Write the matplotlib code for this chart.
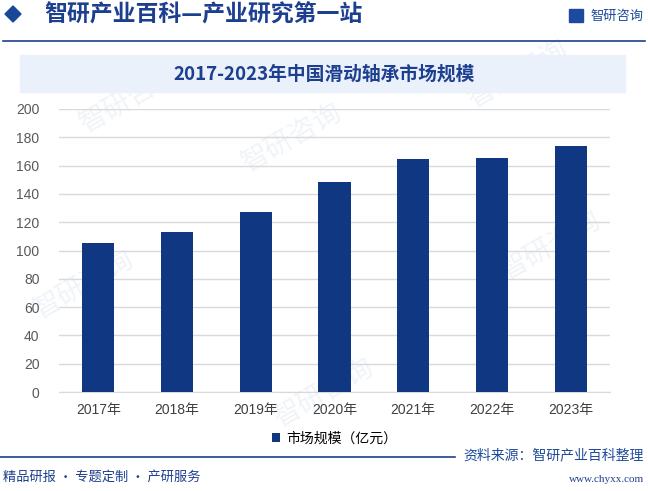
import matplotlib.pyplot as plt
from matplotlib.patches import Rectangle, Polygon
import matplotlib.lines as mlines

plt.rcParams['font.family'] = ['Liberation Sans', 'Noto Sans CJK SC', 'DejaVu Sans']

# 数据
years = ['2017年', '2018年', '2019年', '2020年', '2021年', '2022年', '2023年']
market_size = [105.0, 113.0, 127.1, 148.4, 164.6, 165.3, 173.8]
series_name = '市场规模（亿元）'
title = '2017-2023年中国滑动轴承市场规模'

bar_color = '#0f3782'
dark_blue = '#1d3f8f'

fig = plt.figure(figsize=(6.48, 4.91), dpi=100)

# 水印（淡色，位于图形之后）
for (wx, wy) in [(0.13, 0.42), (0.45, 0.72), (0.5, 0.2), (0.85, 0.5), (0.2, 0.8), (0.8, 0.85)]:
    fig.text(wx, wy, '智研咨询', fontsize=20, color='#f0f4f9', rotation=30,
             ha='center', va='center', family=['Noto Sans CJK SC'], zorder=0)

# 顶部标题栏
fig.patches.append(Polygon([[5 / 648, 1 - 14 / 491], [13 / 648, 1 - 6 / 491],
                            [21 / 648, 1 - 14 / 491], [13 / 648, 1 - 22 / 491]],
                           closed=True, transform=fig.transFigure, color='#1a4899'))
fig.text(44 / 648, 1 - 15 / 491, '智研产业百科—产业研究第一站', fontsize=16.5, fontweight='bold',
         color=dark_blue, va='center', ha='left', family=['Noto Sans CJK SC'], zorder=3)
fig.text(643 / 648, 1 - 16 / 491, '智研咨询', fontsize=9.5, color='#1d4a9c',
         va='center', ha='right', family=['Noto Sans CJK SC'], zorder=3)
fig.patches.append(Rectangle((569 / 648, 1 - 22 / 491), 14 / 648, 13 / 491,
                             transform=fig.transFigure, color='#1d4a9c'))
fig.lines.append(mlines.Line2D([3 / 648, 645 / 648], [1 - 41 / 491, 1 - 41 / 491],
                               transform=fig.transFigure, color=dark_blue, lw=1.2))

# 图表标题背景
fig.patches.append(Rectangle((20 / 648, 1 - 92 / 491), 605 / 648, 37 / 491,
                             transform=fig.transFigure, color='#eaf1fb', zorder=1))
fig.text(324 / 648, 1 - 74 / 491, title, fontsize=13.5, color=dark_blue, fontweight='bold',
         va='center', ha='center', family=['Noto Sans CJK SC'], zorder=3)

# 主图
ax = fig.add_axes([59 / 648, 1 - 392 / 491, 551 / 648, 283 / 491])
ax.set_zorder(2)
ax.patch.set_alpha(0)
x = range(len(years))
ax.bar(x, market_size, width=0.41, color=bar_color, zorder=3, label=series_name)
ax.set_xlim(-0.5, len(years) - 0.5)
ax.set_ylim(0, 200)
ax.set_yticks(range(0, 201, 20))
ax.set_xticks(list(x))
ax.set_xticklabels(years)
ax.grid(axis='y', color='#d9d9d9', lw=1, zorder=0)
for s in ax.spines.values():
    s.set_visible(False)
ax.spines['bottom'].set_visible(True)
ax.spines['bottom'].set_color('#d9d9d9')
ax.tick_params(axis='both', length=0, labelsize=10, colors='#404040')
ax.tick_params(axis='y', pad=14, colors='#595959')
ax.tick_params(axis='x', pad=8)

ax.legend(loc='center', bbox_to_anchor=(0.5, -0.165), frameon=False, fontsize=10,
          handlelength=0.6, handleheight=0.6, handletextpad=0.4)

# 底部
fig.lines.append(mlines.Line2D([0, 455 / 648], [1 - 457 / 491, 1 - 457 / 491],
                               transform=fig.transFigure, color=dark_blue, lw=1.2))
fig.text(644 / 648, 1 - 455 / 491, '资料来源：智研产业百科整理', fontsize=10, color='#1d4a9c',
         va='center', ha='right', family=['Noto Sans CJK SC'], zorder=3)
fig.text(3 / 648, 1 - 477 / 491, '精品研报 · 专题定制 · 产研服务', fontsize=9.5, color='#1d3f8f',
         va='center', ha='left', family=['Noto Sans CJK SC'], zorder=3)
fig.text(644 / 648, 1 - 480 / 491, 'www.chyxx.com', fontsize=8, color='#1d3f8f',
         va='center', ha='right', family=['Liberation Serif'], zorder=3)

fig.savefig('out.png', dpi=100)
